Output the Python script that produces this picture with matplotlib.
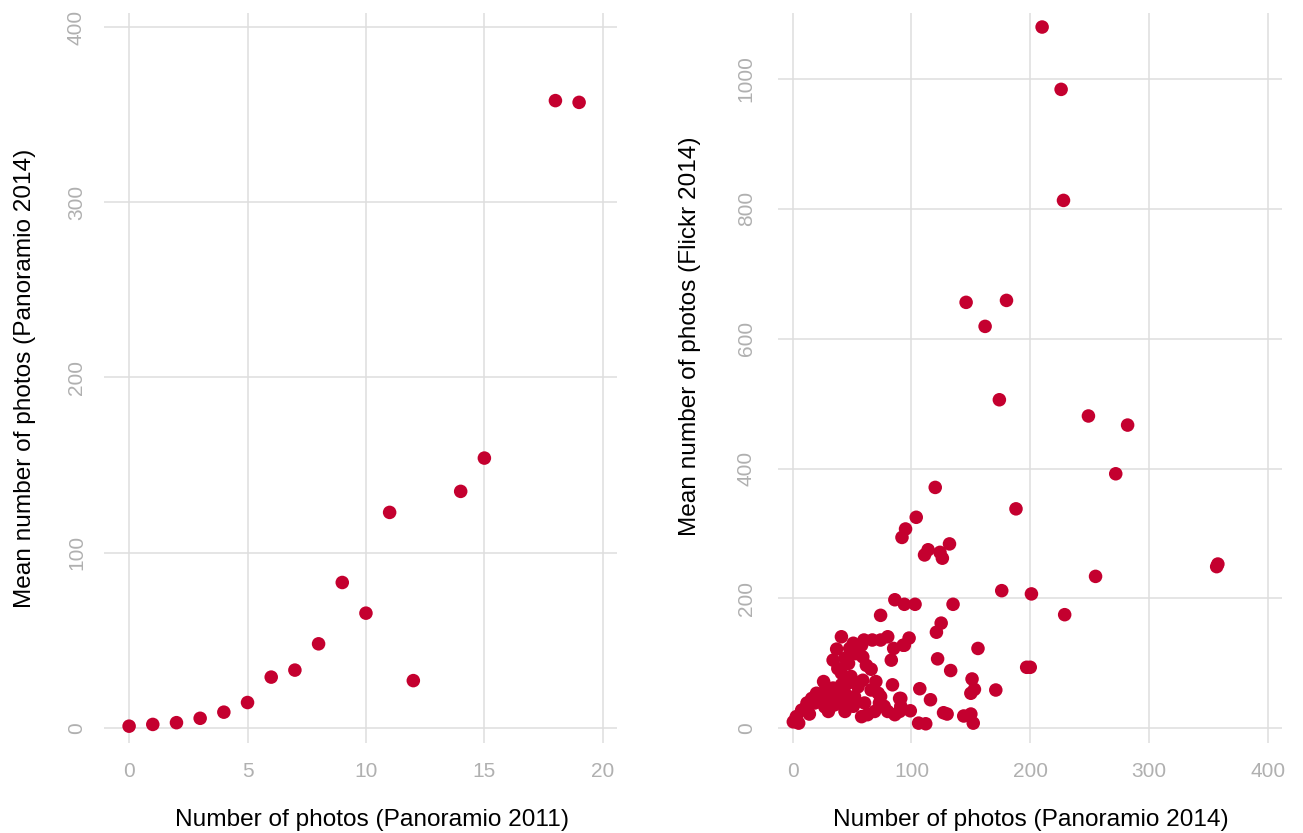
import matplotlib
matplotlib.use("Agg")
import matplotlib.pyplot as plt

# Left panel: Panoramio 2011 vs mean Panoramio 2014
left_x = [0, 1, 2, 3, 4, 5, 6, 7, 8, 9, 10, 11, 12, 14, 15, 18, 19]
left_y = [1, 2, 3, 5.5, 9, 14.5, 29, 33, 48, 83, 65.5, 123, 27, 135, 154, 358, 357]

# Right panel: Panoramio 2014 vs mean Flickr 2014
right_x = [210, 226, 228, 146, 180, 162, 174, 249, 282, 272, 255, 201, 229, 200, 358, 357,
           120, 188, 104, 95, 92, 132, 114, 111, 124, 126, 176,
           86, 94, 103, 135, 125, 121, 98, 93, 156, 122, 133, 197, 151, 107, 153, 150, 171,
           91, 116, 91, 99, 127, 130, 144, 150, 106, 112, 152,
           74, 41, 51, 58, 60, 67, 74, 80, 37, 48, 53, 59, 85, 94, 83, 34, 44, 47, 38, 41, 49,
           62, 66, 59, 70, 84, 26, 28, 34, 41, 47, 51, 55, 66, 72, 74, 20, 16, 24, 31, 40, 44,
           35, 30, 12, 7.5, 3, 0.5, 18.5, 41, 47, 52, 60.5, 58, 63, 69, 73, 77, 80, 86, 90, 90,
           44, 51, 10, 22, 27, 5, 14]
right_y = [1080, 984, 813, 656, 659, 619, 506, 481, 467, 392, 234, 207, 175, 94, 253, 249,
           371, 338, 325, 307, 294, 284, 275, 267, 271, 262, 212,
           198, 191, 191, 191, 162, 148, 139, 128, 123, 107, 89, 94, 76, 61, 60, 54, 59,
           46, 44, 34, 27, 24, 22, 19, 22, 8, 7, 8,
           174, 141, 131, 128, 136, 136, 136, 141, 122, 123, 115, 110, 123, 128, 105, 105, 108, 100, 92, 85, 80,
           97, 91, 74, 72, 67, 72, 64, 62, 67, 70, 72, 64, 59, 54, 49, 54, 46, 49, 46, 49, 54,
           36, 26, 39, 28, 18, 10, 39, 41, 39, 49, 39, 18, 21, 26, 39, 34, 26, 21, 26, 46,
           26, 34, 30, 44, 33, 8, 22]

left_ticks_x = [0, 5, 10, 15, 20]
left_ticks_y = [0, 100, 200, 300, 400]
right_ticks_x = [0, 100, 200, 300, 400]
right_ticks_y = [0, 200, 400, 600, 800, 1000]

W, H = 1303, 833
fig = plt.figure(figsize=(W / 100, H / 100), dpi=100)
plt.rcParams['font.family'] = ['Liberation Sans', 'DejaVu Sans']

point_color = "#C4002F"
grid_color = "#DEDEDE"
tick_color = "#B0B0B0"


def make_axes(rect, xs, ys, xlim, ylim, xt, yt, xlabel, ylabel, ypad,
              xlab_x, ylab_x, ylab_y):
    ax = fig.add_axes(rect)
    ax.scatter(xs, ys, s=95, color=point_color, edgecolors="none", zorder=3)
    ax.set_xlim(*xlim)
    ax.set_ylim(*ylim)
    ax.set_xticks(xt)
    ax.set_yticks(yt)
    for sp in ax.spines.values():
        sp.set_visible(False)
    ax.grid(True, color=grid_color, linewidth=1.1, zorder=0)
    ax.set_axisbelow(True)
    ax.tick_params(length=0, colors=tick_color, labelsize=15)
    ax.tick_params(axis='x', pad=14)
    ax.tick_params(axis='y', pad=ypad)
    for lab in ax.get_yticklabels():
        lab.set_rotation(90)
        lab.set_va('center')
    ax.set_xlabel(xlabel, fontsize=17.6, color="black")
    ax.set_ylabel(ylabel, fontsize=17.6, color="black")
    ax.xaxis.label.set_va('center')
    ax.xaxis.label.set_ha('center')
    ax.yaxis.label.set_va('center')
    ax.yaxis.label.set_ha('center')
    # label centre positions in axes fraction
    ax.xaxis.set_label_coords(xlab_x, -77 / 730, transform=ax.transAxes)
    ax.yaxis.set_label_coords(ylab_x, ylab_y, transform=ax.transAxes)
    return ax


ax1 = make_axes([104 / W, 1 - 743 / H, (617 - 104) / W, (743 - 13) / H],
                left_x, left_y, (-1.06, 20.6), (-8.6, 408),
                left_ticks_x, left_ticks_y,
                "Number of photos (Panoramio 2011)",
                "Mean number of photos (Panoramio 2014)", 13,
                (372 - 104) / 513, (25 - 104) / 513, (743 - 378) / 730)

ax2 = make_axes([778 / W, 1 - 743 / H, (1282 - 778) / W, (743 - 13) / H],
                right_x, right_y, (-12.4, 412), (-22.6, 1101.6),
                right_ticks_x, right_ticks_y,
                "Number of photos (Panoramio 2014)",
                "Mean number of photos (Flickr 2014)", 16,
                (1031 - 778) / 504, (690 - 778) / 504, (743 - 336) / 730)

fig.savefig("out.png", dpi=100, facecolor="white")
